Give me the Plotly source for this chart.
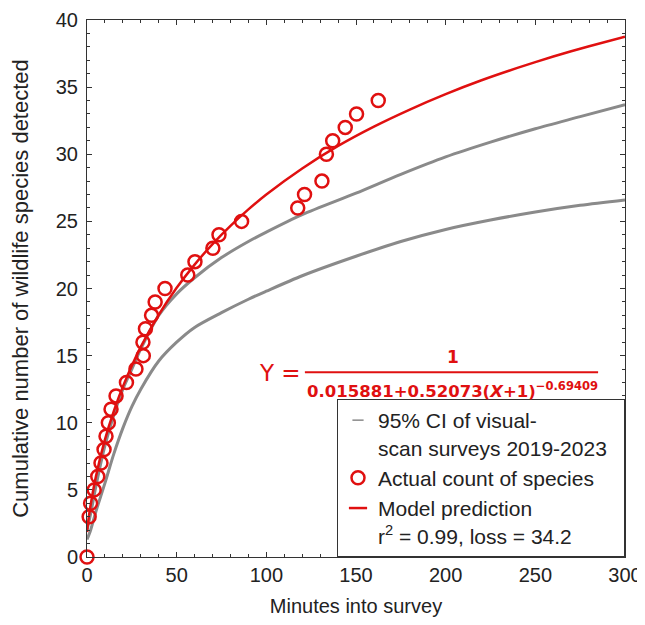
import plotly.graph_objects as go

# ---------------- data ----------------
actual_minutes = [0, 1.2, 2, 4, 6, 7.8, 9.5, 10.6, 11.9, 13.4, 16.2, 22, 27.3, 31.4, 31.2, 32.6,
                  36, 38, 43.5, 56.2, 60.2, 70.2, 73.6, 86.2, 117.5, 121.3, 131, 133.5, 137, 144,
                  150.3, 162.4]
actual_species = [0, 3, 4, 5, 6, 7, 8, 9, 10, 11, 12, 13, 14, 15, 16, 17,
                  18, 19, 20, 21, 22, 23, 24, 25, 26, 27, 28, 30, 31, 32,
                  33, 34]

model_minutes = [0, 1, 2, 5, 10, 15, 20, 30, 40, 50, 60, 70, 80, 90, 100, 120, 140, 160,
                 180, 200, 220, 240, 260, 280, 300]
model_species = [1.86, 2.96, 3.86, 6.02, 8.74, 10.88, 12.69, 15.65, 18.04, 20.05, 21.78, 23.31,
                 24.67, 25.89, 27.00, 28.94, 30.62, 32.06, 33.33, 34.48, 35.51, 36.43, 37.28,
                 38.05, 38.76]

ci_minutes = [0, 2, 5, 10, 15, 20, 25, 30, 40, 50, 60, 75, 90, 100, 120, 150, 175, 200,
              225, 250, 275, 300]
ci_upper = [2.0, 3.2, 5.3, 8.3, 10.6, 12.5, 14.0, 15.5, 18.0, 19.6, 20.8, 22.3, 23.5, 24.2,
            25.5, 27.1, 28.5, 29.8, 30.9, 31.9, 32.8, 33.7]
ci_lower = [1.3, 2.0, 3.4, 5.5, 7.7, 9.6, 11.2, 12.5, 14.6, 16.0, 17.1, 18.2, 19.2, 19.8,
            20.95, 22.4, 23.5, 24.4, 25.1, 25.7, 26.2, 26.6]

x_ticks = [0, 50, 100, 150, 200, 250, 300]
y_ticks = [0, 5, 10, 15, 20, 25, 30, 35, 40]

RED = "#e01010"
GREY = "#8a8a8a"
FONT = "Liberation Sans, Arial, sans-serif"

fig = go.Figure()

# CI bounds (drawn without legend)
for yb in (ci_upper, ci_lower):
    fig.add_trace(go.Scatter(x=ci_minutes, y=yb, mode="lines", showlegend=False,
                             line=dict(color=GREY, width=3, shape="spline", smoothing=0.8),
                             hoverinfo="skip"))

# model prediction line
fig.add_trace(go.Scatter(x=model_minutes, y=model_species, mode="lines", showlegend=False,
                         line=dict(color=RED, width=2.5, shape="spline", smoothing=0.6)))

# legend entry for CI
fig.add_trace(go.Scatter(x=[None], y=[None], mode="markers",
                         name="95% CI of visual-<br>scan surveys 2019-2023&nbsp;&nbsp;",
                         marker=dict(symbol="line-ew", size=8, color=GREY,
                                     line=dict(color=GREY, width=1.5))))

# actual counts
fig.add_trace(go.Scatter(x=actual_minutes, y=actual_species, mode="markers",
                         name="Actual count of species", cliponaxis=False,
                         marker=dict(symbol="circle-open", size=13, color=RED,
                                     line=dict(color=RED, width=2.5))))

# legend entry for model
fig.add_trace(go.Scatter(x=[None], y=[None], mode="markers",
                         name="Model prediction<br>r<sup>2</sup> = 0.99, loss = 34.2",
                         marker=dict(symbol="line-ew", size=13, color=RED,
                                     line=dict(color=RED, width=2.5))))

axis_common = dict(
    showline=True, linecolor="#333", linewidth=1, mirror="allticks",
    ticks="inside", ticklen=5, tickcolor="#333", tickwidth=1,
    showgrid=False, zeroline=False, automargin=False,
    tickfont=dict(family=FONT, size=20, color="#222"),
)

fig.update_xaxes(range=[0, 300], tickvals=x_ticks,
                 minor=dict(dtick=10, ticks="inside", ticklen=3, tickcolor="#333"),
                 title=dict(text="Minutes into survey", font=dict(family=FONT, size=20, color="#222"),
                            standoff=16),
                 **axis_common)
fig.update_yaxes(range=[0, 40], tickvals=y_ticks, ticklabelstandoff=4,
                 minor=dict(dtick=1, ticks="inside", ticklen=3, tickcolor="#333"),
                 title=dict(text="Cumulative number of wildlife species detected",
                            font=dict(family=FONT, size=22, color="#222"), standoff=22),
                 **axis_common)

# equation
eq_font = "DejaVu Sans, sans-serif"
fig.add_annotation(xref="paper", yref="paper", x=0.358, y=0.343, xanchor="center", yanchor="middle",
                   text="Y =", showarrow=False, font=dict(family=eq_font, size=23, color=RED))
fig.add_annotation(xref="paper", yref="paper", x=0.68, y=0.373, xanchor="center", yanchor="middle",
                   text="<b>1</b>", showarrow=False, font=dict(family=eq_font, size=17, color=RED))
fig.add_annotation(xref="paper", yref="paper", x=0.68, y=0.311, xanchor="center", yanchor="middle",
                   text="<b>0.015881+0.52073(<i>X</i>+1)<sup>−0.69409</sup></b>", showarrow=False,
                   font=dict(family=eq_font, size=16.5, color=RED))
fig.add_shape(type="line", xref="paper", yref="paper", x0=0.405, x1=0.95, y0=0.344, y1=0.344,
              line=dict(color=RED, width=2))

# the page body has an 8px default margin; size the figure so the plot area lands where the reference has it
fig.update_layout(
    width=637, height=609,
    margin=dict(l=79, r=20, t=12, b=60),
    paper_bgcolor="white", plot_bgcolor="white",
    font=dict(family=FONT, size=20, color="#222"),
    legend=dict(x=1, y=0, xanchor="right", yanchor="bottom", bgcolor="white",
                bordercolor="#333", borderwidth=1, valign="top", tracegroupgap=0,
                font=dict(family=FONT, size=21, color="#222")),
    showlegend=True,
)

fig.write_html("out.html")
